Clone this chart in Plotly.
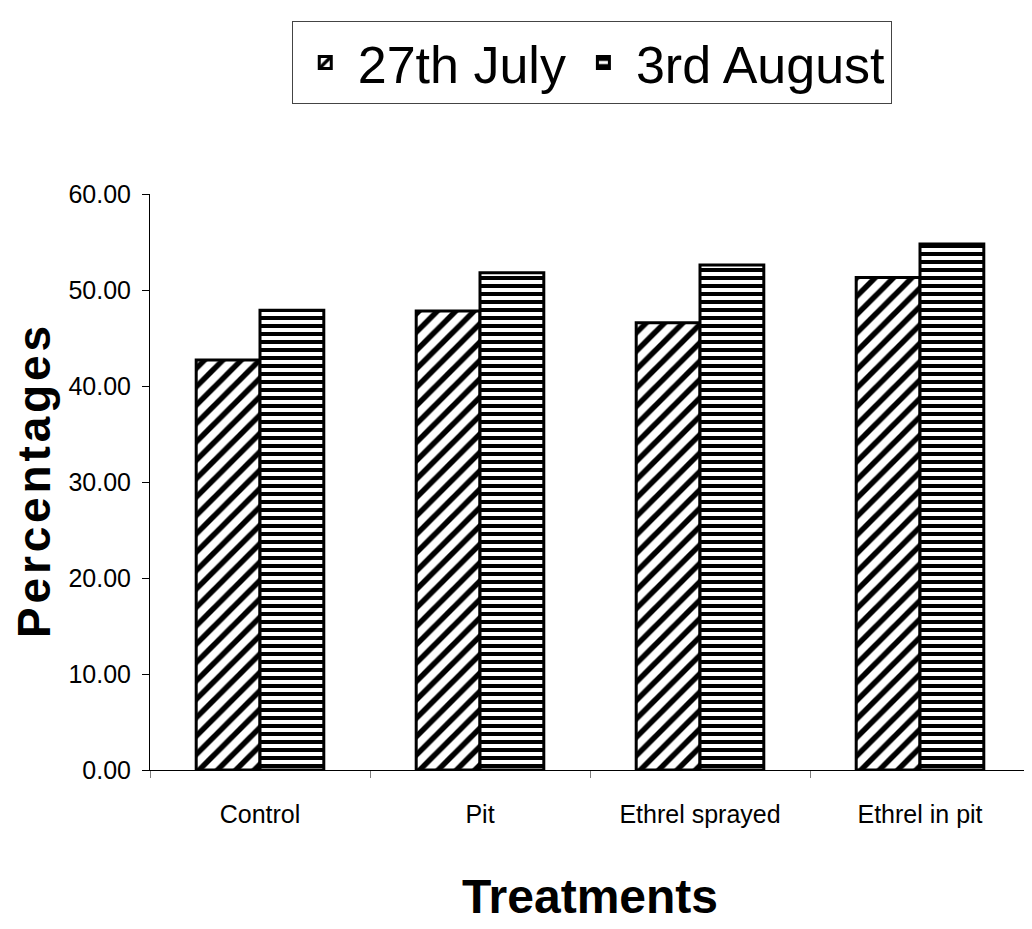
import plotly.graph_objects as go

categories = ["Control", "Pit", "Ethrel sprayed", "Ethrel in pit"]
july27 = [42.7, 47.8, 46.6, 51.3]
aug3 = [47.9, 51.8, 52.6, 54.8]
series_names = ["27th July", "3rd August"]
y_ticks = [0, 10, 20, 30, 40, 50, 60]
y_ticklabels = ["0.00", "10.00", "20.00", "30.00", "40.00", "50.00", "60.00"]

FONT = "Liberation Sans, Arial, sans-serif"
HS = "\u200a"

fig = go.Figure()
fig.add_trace(go.Bar(
    x=categories, y=july27, name=series_names[0],
    marker=dict(color="white", line=dict(color="black", width=3),
                pattern=dict(shape="/", fgcolor="black", bgcolor="white", fgopacity=1,
                             size=13, solidity=0.42, fillmode="overlay")),
))
fig.add_trace(go.Bar(
    x=categories, y=aug3, name=series_names[1],
    marker=dict(color="white", line=dict(color="black", width=3),
                pattern=dict(shape="-", fgcolor="black", bgcolor="white", fgopacity=1,
                             size=8, solidity=0.5, fillmode="overlay")),
))

fig.update_layout(
    width=1024, height=921,
    margin=dict(l=142, r=2, t=186, b=159),
    paper_bgcolor="white", plot_bgcolor="white",
    barmode="group", bargap=0.42, bargroupgap=0,
    font=dict(family=FONT, color="black"),
    legend=dict(
        orientation="h", x=0.502, xanchor="center", y=1.30, yanchor="top",
        bordercolor="#444444", borderwidth=1,
        font=dict(family=FONT, size=52, color="black"),
        itemwidth=55,
    ),
    xaxis=dict(
        showline=True, linecolor="black", linewidth=1,
        ticks="outside", tickson="boundaries", ticklen=7, tickcolor="#808080",
        tickfont=dict(family=FONT, size=25),
        ticklabelstandoff=22,
        title=dict(text="<b>Treatments</b>",
                   font=dict(family=FONT, size=48), standoff=52),
        showgrid=False,
    ),
    yaxis=dict(
        range=[0, 60], tickvals=y_ticks, ticktext=y_ticklabels,
        showline=True, linecolor="black", linewidth=1,
        ticks="outside", ticklen=7, tickcolor="black",
        tickfont=dict(family=FONT, size=25),
        ticklabelstandoff=6,
        title=dict(text="<b>" + HS.join("Percentages") + "</b>",
                   font=dict(family=FONT, size=46), standoff=12),
        showgrid=False, zeroline=False,
    ),
)

fig.write_html("out.html")
